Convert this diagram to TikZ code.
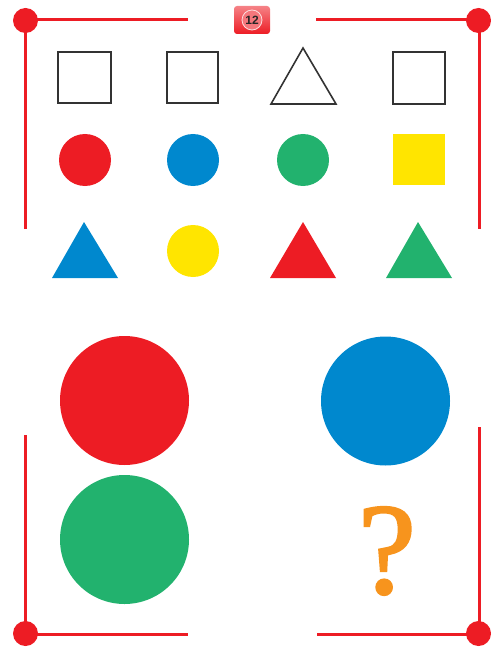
\documentclass[tikz,border=0pt]{standalone}
\usepackage{fontspec}
\setmainfont{Liberation Serif}
\newfontfamily\badgefont{Liberation Sans}
\newfontfamily\qfont[FakeBold=1.8]{Liberation Serif}
\definecolor{fred}{HTML}{ED1C24}
\definecolor{fblue}{HTML}{0088CE}
\definecolor{fgreen}{HTML}{22B26E}
\definecolor{fyellow}{HTML}{FFE500}
\definecolor{forange}{HTML}{F7941D}
\definecolor{outl}{HTML}{333333}
\begin{document}
\begin{tikzpicture}[x=1pt,y=-1pt,
  frame/.style={draw=fred,line width=3pt},
  dot/.style={fill=fred},
  outline/.style={draw=outl,line width=1.6pt,fill=white}]
\useasboundingbox (0,0) rectangle (490,647);
% frame
\draw[frame] (25,229) -- (25,20) -- (188,20);
\draw[frame] (316,20) -- (479,20) -- (479,229);
\draw[frame] (25,435) -- (25,634) -- (188,634);
\draw[frame] (317,634) -- (479,634) -- (479,427);
\fill[dot] (25.5,20.5) circle (12.5);
\fill[dot] (478.5,20.5) circle (12.5);
\fill[dot] (25.5,633.5) circle (12.5);
\fill[dot] (478.5,633.5) circle (12.5);
% badge
\shade[top color=fred!55,bottom color=fred,rounded corners=3pt] (234,6) rectangle (270,34);
\fill[fred!60!white] (252,20) circle (10);
\draw[white!85!fred,line width=0.8pt] (252,20) circle (10);
\node[font=\badgefont\bfseries\fontsize{12}{12}\selectfont,text=black!85] (badge) at (252,20.5) {12};
% row 1
\draw[outline] (58,52) rectangle (111,103);
\draw[outline] (167,52) rectangle (218,103);
\draw[outline,line join=miter] (303,48) -- (336,104) -- (271,104) -- cycle;
\draw[outline] (393,52) rectangle (445,104);
% row 2
\fill[fred] (85,160) circle (26);
\fill[fblue] (193,160) circle (26);
\fill[fgreen] (303,160) circle (26);
\fill[fyellow] (393,134) rectangle (445,185);
% row 3
\fill[fblue] (84,222) -- (118,278) -- (52,278) -- cycle;
\fill[fyellow] (193,251) circle (26);
\fill[fred] (303,222) -- (336,278) -- (270,278) -- cycle;
\fill[fgreen] (418,222) -- (452,278) -- (386,278) -- cycle;
% big circles
\fill[fred] (124.5,400.5) circle (64.5);
\fill[fblue] (385.5,401) circle (64.5);
\fill[fgreen] (124.5,539.5) circle (64.5);
% question mark
\node[text=forange,font=\qfont\fontsize{130}{130}\selectfont,inner sep=0pt] (qmark) at (387,551) {?};
\end{tikzpicture}
\end{document}
